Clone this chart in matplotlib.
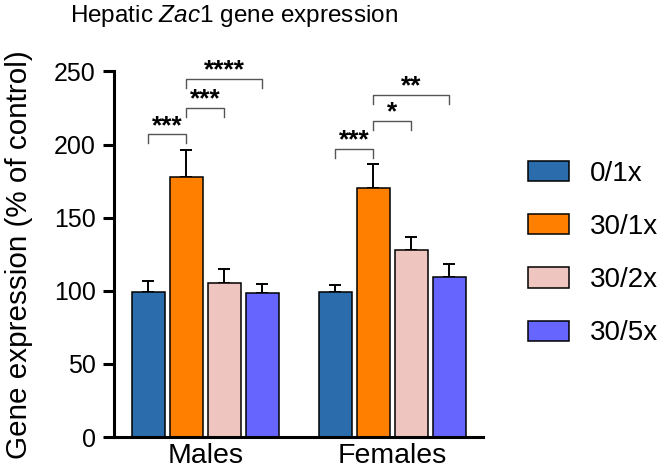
import numpy as np
import matplotlib
matplotlib.use('Agg')
import matplotlib.pyplot as plt

plt.rcParams['font.family'] = ['Liberation Sans', 'DejaVu Sans']
plt.rcParams['mathtext.fontset'] = 'custom'
plt.rcParams['mathtext.rm'] = 'Liberation Sans'
plt.rcParams['mathtext.it'] = 'Liberation Sans:italic'

# Data
groups = ['Males', 'Females']
treatments = ['0/1x', '30/1x', '30/2x', '30/5x']
colors = ['#2B6CAC', '#FF8000', '#EFC5BF', '#6666FF']
means_males = [99, 177.5, 105.5, 98.5]
means_females = [99, 170.5, 128, 109.5]
sem_males = [7.5, 18.5, 9.5, 6]
sem_females = [5.3, 16.5, 8.6, 9]

# significance brackets: (group, bar a, bar b, height, label)
sig_group = [0, 0, 0, 1, 1, 1]
sig_a = [0, 1, 1, 0, 1, 1]
sig_b = [1, 2, 3, 1, 2, 3]
sig_y = [207, 225, 245, 197, 216, 234]
sig_txt = ['***', '***', '****', '***', '*', '**']

means = np.array([means_males, means_females])
sems = np.array([sem_males, sem_females])

fig = plt.figure(figsize=(6.66, 4.73), dpi=100)
ax = fig.add_axes([0.171, 0.076, 0.554, 0.773])

x = np.arange(len(groups))
width = 0.177
step = 0.203
offsets = (np.arange(len(treatments)) - 1.5) * step

for i, t in enumerate(treatments):
    ax.bar(x + offsets[i], means[:, i], width, color=colors[i],
           edgecolor='black', linewidth=1.1, label=t, zorder=2)
    ax.errorbar(x + offsets[i], means[:, i],
                yerr=[np.zeros(len(groups)), sems[:, i]],
                fmt='none', ecolor='black', elinewidth=1.4,
                capsize=4, capthick=1.4, zorder=1)

# brackets and stars
drop = 6
for g, a, b, y, s in zip(sig_group, sig_a, sig_b, sig_y, sig_txt):
    xa, xb = x[g] + offsets[a], x[g] + offsets[b]
    ax.plot([xa, xa, xb, xb], [y - drop, y, y, y - drop], color='#555555',
            lw=1.0, clip_on=False)
    ax.text((xa + xb) / 2, y + 1, s, ha='center', va='baseline',
            fontsize=19, fontweight='bold', clip_on=False)

ax.set_xlim(-0.489, 1.484)
ax.set_ylim(0, 250)
ax.set_yticks([0, 50, 100, 150, 200, 250])
ax.set_xticks(x)
ax.set_xticklabels(groups, fontsize=20.5)
ax.tick_params(axis='x', length=0, pad=4)
ax.tick_params(axis='y', labelsize=18, width=2.2, length=8, pad=5)
for sp in ['top', 'right']:
    ax.spines[sp].set_visible(False)
for sp in ['left', 'bottom']:
    ax.spines[sp].set_linewidth(2.2)
ax.set_ylabel('Gene expression (% of control)', fontsize=21.3)
ax.yaxis.set_label_coords(-0.22, 0.5)

fig.text(0.351, 0.966, 'Hepatic $\\it{Zac1}$ gene expression', ha='center',
         va='center', fontsize=17.5)

fig.legend(loc='center left', bbox_to_anchor=(0.793, 0.464), frameon=False,
           fontsize=20, handlelength=1.46, handleheight=0.75,
           handletextpad=0.75, labelspacing=0.98, borderpad=0,
           borderaxespad=0)

fig.savefig('out.png', dpi=100)
